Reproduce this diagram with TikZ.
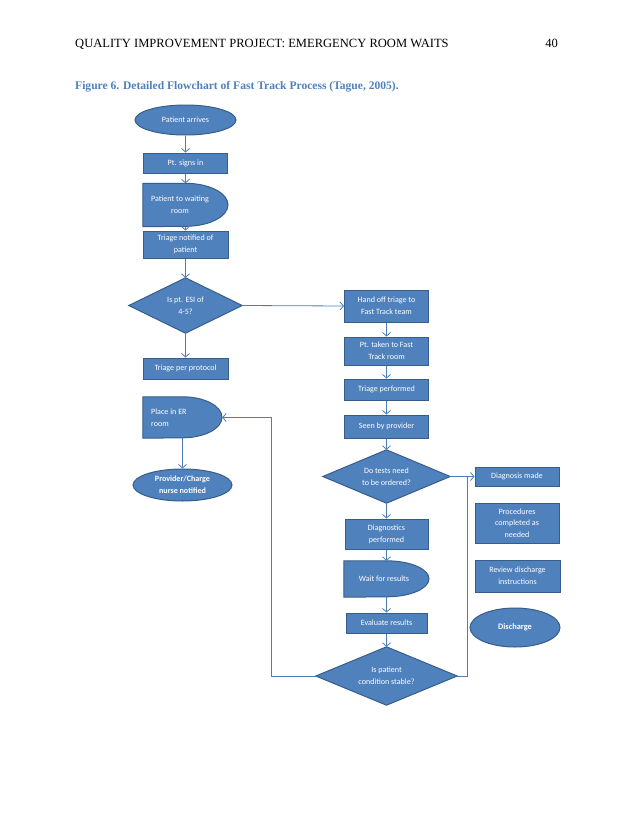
\documentclass[tikz,border=0pt]{standalone}
\usepackage{fontspec}
\setmainfont{Liberation Serif}
\newfontfamily\boxfont{Carlito}
\usetikzlibrary{shapes.geometric,arrows.meta,backgrounds}
\definecolor{boxfill}{HTML}{4F81BD}
\definecolor{boxline}{HTML}{385D8A}
\definecolor{arrowc}{HTML}{4A7EBB}
\definecolor{capblue}{HTML}{4F81BD}
\begin{document}
\begin{tikzpicture}[x=1bp,y=1bp,
  txt/.style={text=white, font=\boxfont\fontsize{8.1}{11.8}\selectfont, align=center, inner sep=0pt},
  rbox/.style={txt, rectangle, fill=boxfill, draw=boxline, line width=1bp},
  ebox/.style={txt, ellipse, fill=boxfill, draw=boxline, line width=1bp},
  holder/.style={txt, rectangle, draw=none, fill=none},
  shp/.style={fill=boxfill, draw=boxline, line width=1bp},
  arr/.style={draw=arrowc, line width=0.8bp, -{Straight Barb[length=3.5bp,width=8bp]}},
  ln/.style={draw=arrowc, line width=0.8bp}]
\useasboundingbox (0,0) rectangle (638,-826);
% header
\node[anchor=base west, inner sep=0pt, font=\fontsize{12.6}{14}\selectfont] (hdr) at (75,-47) {QUALITY IMPROVEMENT PROJECT: EMERGENCY ROOM WAITS};
\node[anchor=base east, inner sep=0pt, font=\fontsize{12.6}{14}\selectfont] (pg) at (558,-47) {40};
\node[anchor=base west, inner sep=0pt, text=capblue, font=\bfseries\fontsize{11.6}{13}\selectfont] (cap) at (75,-89) {Figure 6. Detailed Flowchart of Fast Track Process (Tague, 2005).};
% left column
\node[ebox, minimum width=101bp, minimum height=30bp] (arrives) at (185.5,-120) {Patient arrives};
\node[rbox, minimum width=84bp, minimum height=20bp] (signs) at (185.5,-163) {Pt. signs in};
\node[holder, minimum width=85bp, minimum height=43bp] (waiting) at (185.5,-205) {};
\node[txt] (waitingt) at (180,-205) {Patient to waiting\\room};
\node[rbox, minimum width=85bp, minimum height=27bp] (notified) at (185.5,-244.5) {Triage notified of\\patient};
\node[holder, minimum width=113bp, minimum height=55bp] (esi) at (185.5,-305.5) {Is pt. ESI of\\4-5?};
\node[rbox, minimum width=85bp, minimum height=21bp] (protocol) at (185.5,-368.5) {Triage per protocol};
\node[holder, minimum width=79bp, minimum height=41bp] (place) at (182.5,-417.5) {};
\node[txt, anchor=west, align=left] (placet) at (151,-417.5) {Place in ER\\room};
\node[ebox, minimum width=99bp, minimum height=32bp, font=\boxfont\bfseries\fontsize{8.1}{11.8}\selectfont] (provider) at (182.5,-485) {Provider/Charge\\nurse notified};
% middle column
\node[rbox, minimum width=84bp, minimum height=32bp] (handoff) at (386.5,-306) {Hand off triage to\\Fast Track team};
\node[rbox, minimum width=84bp, minimum height=28bp] (taken) at (386.5,-351) {Pt. taken to Fast\\Track room};
\node[rbox, minimum width=84bp, minimum height=21bp] (performed) at (386.5,-389.5) {Triage performed};
\node[rbox, minimum width=84bp, minimum height=23bp] (seen) at (386.5,-426.5) {Seen by provider};
\node[holder, minimum width=127bp, minimum height=53bp] (tests) at (386.5,-476.5) {Do tests need\\to be ordered?};
\node[rbox, minimum width=83bp, minimum height=30bp] (diagnostics) at (386.5,-534) {Diagnostics\\performed};
\node[holder, minimum width=85bp, minimum height=36bp] (wait) at (386.5,-579) {};
\node[txt] (waitt) at (384,-579) {Wait for results};
\node[rbox, minimum width=81bp, minimum height=20bp] (evaluate) at (386.5,-623) {Evaluate results};
\node[holder, minimum width=141bp, minimum height=58bp] (stable) at (386.5,-676) {Is patient\\condition stable?};
% right column
\node[rbox, minimum width=84bp, minimum height=19bp] (diagnosis) at (517,-476.5) {Diagnosis made};
\node[rbox, minimum width=84bp, minimum height=40bp] (procedures) at (517,-523) {Procedures\\completed as\\needed};
\node[rbox, minimum width=85bp, minimum height=32bp] (review) at (517.5,-576) {Review discharge\\instructions};
\node[ebox, minimum width=90bp, minimum height=39bp, font=\boxfont\bfseries\fontsize{8.4}{11.8}\selectfont] (discharge) at (515,-627.5) {Discharge};
% background shapes
\begin{scope}[on background layer]
\fill[white] (0,0) rectangle (638,-826);
\filldraw[shp] (waiting.south west) -- (waiting.north west) -- (waiting.north) arc[start angle=90, end angle=-90, x radius=42.5, y radius=21.5] -- cycle;
\filldraw[shp] (place.south west) -- (place.north west) -- (place.north) arc[start angle=90, end angle=-90, x radius=39.5, y radius=20.5] -- cycle;
\filldraw[shp] (wait.south west) -- (wait.north west) -- (wait.north) arc[start angle=90, end angle=-90, x radius=42.5, y radius=18] -- cycle;
\filldraw[shp] (esi.north) -- (esi.east) -- (esi.south) -- (esi.west) -- cycle;
\filldraw[shp] (tests.north) -- (tests.east) -- (tests.south) -- (tests.west) -- cycle;
\filldraw[shp] (stable.north) -- (stable.east) -- (stable.south) -- (stable.west) -- cycle;
\end{scope}
% connectors
\draw[arr] (arrives) -- (signs);
\draw[arr] (signs) -- (waiting);
\draw[arr] (waiting) -- (notified);
\draw[arr] (notified) -- (esi);
\draw[arr] (esi) -- (protocol);
\draw[arr] (esi.east) -- (handoff.west);
\draw[arr] (place) -- (provider);
\draw[arr] (handoff) -- (taken);
\draw[arr] (taken) -- (performed);
\draw[arr] (performed) -- (seen);
\draw[arr] (seen) -- (tests);
\draw[arr] (tests) -- (diagnostics);
\draw[arr] (diagnostics) -- (wait);
\draw[arr] (wait) -- (evaluate);
\draw[arr] (evaluate) -- (stable);
\draw[arr] (tests.east) -- (diagnosis.west);
\coordinate (join) at (467,-476.5);
\draw[ln] (stable.east) -| (join);
\coordinate (back) at (271,-676);
\draw[arr] (stable.west) -- (back) |- (place.east);
\end{tikzpicture}
\end{document}
